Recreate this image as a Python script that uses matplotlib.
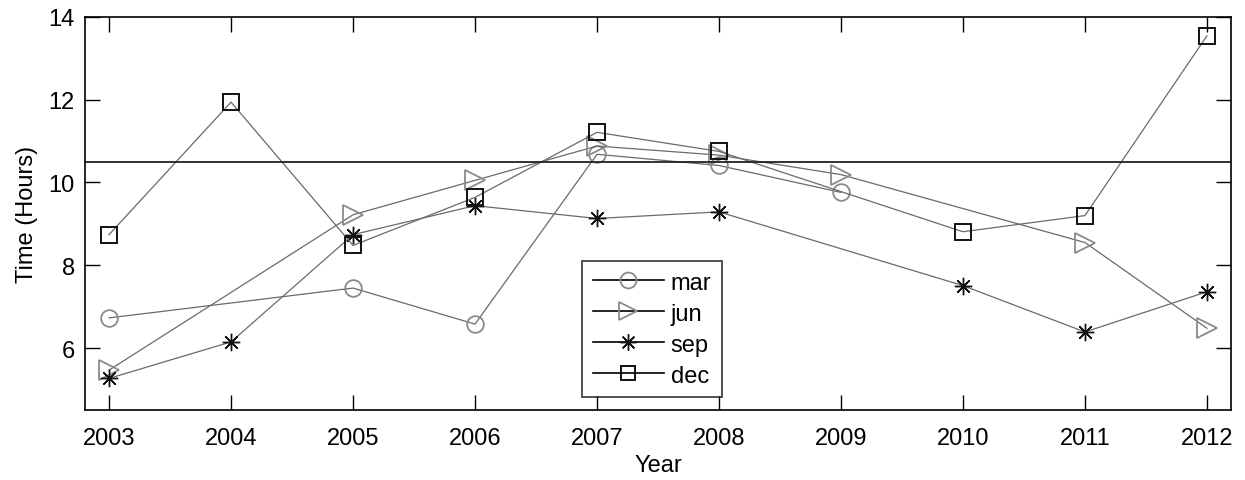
import matplotlib.pyplot as plt
import numpy as np

plt.rcParams['font.family'] = ['Liberation Sans', 'DejaVu Sans']

# values (NaN = no point for that year)
years = [2003, 2004, 2005, 2006, 2007, 2008, 2009, 2010, 2011, 2012]
mar = [6.73, np.nan, 7.45, 6.58, 10.68, 10.41, 9.76, np.nan, np.nan, np.nan]
jun = [5.47, np.nan, 9.22, 10.05, 10.88, 10.66, 10.19, np.nan, 8.55, 6.48]
sep = [5.27, 6.15, 8.74, 9.44, 9.13, 9.29, np.nan, 7.51, 6.39, 7.36]
dec = [8.74, 11.94, 8.48, 9.64, 11.21, 10.75, np.nan, 8.81, 9.20, 13.54]
threshold = 10.5

series = [
    ('mar', mar, 'o', '#8a8a8a', 12, 1.3),
    ('jun', jun, '>', '#8a8a8a', 14, 1.3),
    ('sep', sep, (8, 2, 0), '#111111', 12.5, 1.0),
    ('dec', dec, 's', '#111111', 11, 1.4),
]

fig = plt.figure(figsize=(12.45, 4.81), dpi=100)
ax = fig.add_axes([0.068, 0.145, 0.921, 0.818])

for name, vals, mk, mc, ms, mw in series:
    x = np.array(years, dtype=float)
    y = np.array(vals, dtype=float)
    ok = ~np.isnan(y)
    ax.plot(x[ok], y[ok], color='#6a6a6a', lw=0.9, marker=mk, ms=ms,
            mfc='none', mec=mc, mew=mw)

ax.axhline(threshold, color='#222222', lw=1.3)

# legend with black lines, like the original
handles = []
for name, vals, mk, mc, ms, mw in series:
    h, = ax.plot([], [], color='black', lw=1.2, marker=mk, ms=ms * 0.95,
                 mfc='none', mec=mc, mew=mw, label=name)
    handles.append(h)
leg = ax.legend(handles=handles, loc='lower left',
                bbox_to_anchor=(0.434, 0.033), fontsize=17,
                frameon=True, fancybox=False, edgecolor='black',
                handlelength=3.0, handletextpad=0.3, borderpad=0.45,
                labelspacing=0.38, borderaxespad=0)
leg.get_frame().set_linewidth(1.2)

ax.set_xlim(2002.8, 2012.2)
ax.set_ylim(4.5, 14)
ax.set_xticks(years)
ax.set_yticks([6, 8, 10, 12, 14])
ax.tick_params(direction='in', top=True, right=True, length=11,
               width=1.0, labelsize=17, pad=7)
ax.tick_params(axis='x', pad=12)
for s in ax.spines.values():
    s.set_linewidth(1.2)

ax.set_xlabel('Year', fontsize=17, labelpad=4)
ax.set_ylabel('Time (Hours)', fontsize=17, labelpad=8)

plt.savefig('out.png')
